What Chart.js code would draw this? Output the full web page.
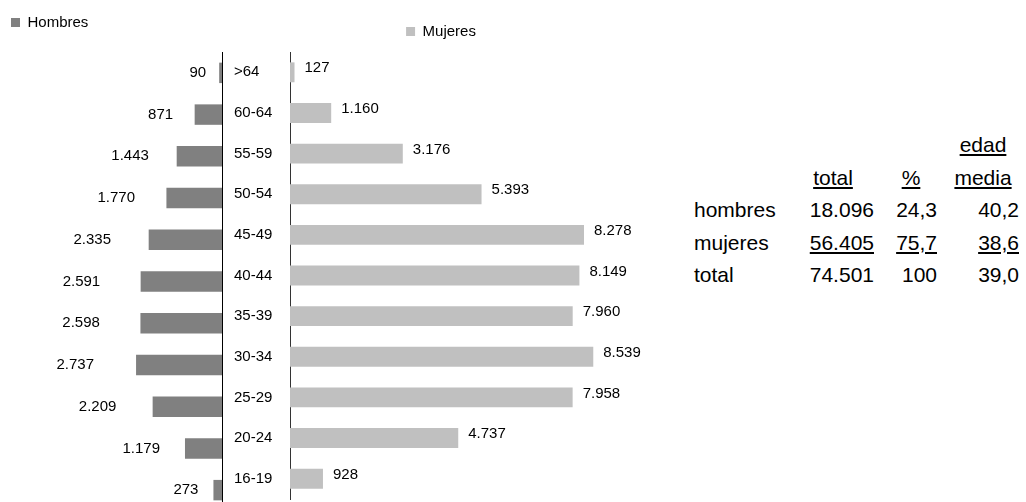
<!DOCTYPE html>
<html lang="es">
<head>
    <meta charset="UTF-8">
    <title>Pirámide de edades</title>
    <script src="https://cdn.jsdelivr.net/npm/chart.js"></script>
    <style>
        body { margin: 0; background: #fff; overflow: hidden; }
        #lienzo { position: relative; width: 1026px; height: 502px; overflow: hidden; }
        canvas { position: absolute; top: 0; }
        #hombresChart { left: 0; }
        #mujeresChart { left: 234px; }
        .celda { position: absolute; white-space: nowrap; font: 21px "Liberation Sans", Arial, sans-serif; line-height: 21px; color: #000; }
        .sub { text-decoration: underline; }
    </style>
</head>
<body>
<div id="lienzo">
    <canvas id="hombresChart" width="224" height="511"></canvas>
    <canvas id="mujeresChart" width="414" height="511"></canvas>
    <div id="tabla"></div>
</div>

<script>
    // datos de la piramide (de arriba a abajo)
    var edades = ['>64', '60-64', '55-59', '50-54', '45-49', '40-44', '35-39', '30-34', '25-29', '20-24', '16-19'];
    var hombres = [90, 871, 1443, 1770, 2335, 2591, 2598, 2737, 2209, 1179, 273];
    var mujeres = [127, 1160, 3176, 5393, 8278, 8149, 7960, 8539, 7958, 4737, 928];

    // tabla resumen
    var filasTabla = ['hombres', 'mujeres', 'total'];
    var totales = [18096, 56405, 74501];
    var porcentajes = ['24,3', '75,7', '100'];
    var edadMedia = ['40,2', '38,6', '39,0'];

    Chart.defaults.font.family = '"Liberation Sans", Arial, sans-serif';
    Chart.defaults.font.size = 15;
    Chart.defaults.color = '#000';

    function miles(v) {
        return String(v).replace(/\B(?=(\d{3})+(?!\d))/g, '.');
    }

    // mas hueco bajo la leyenda
    function alturaLeyenda(extra) {
        return {
            id: 'alturaLeyenda',
            beforeInit: function (chart) {
                var fit = chart.legend.fit;
                chart.legend.fit = function () {
                    fit.call(this);
                    this.height += extra;
                };
            }
        };
    }

    // etiquetas de valor junto a cada barra
    function etiquetas(lado) {
        return {
            id: 'etiquetas',
            afterDatasetsDraw: function (chart) {
                var ctx = chart.ctx;
                var vals = chart.data.datasets[0].data;
                ctx.save();
                ctx.font = '15px "Liberation Sans", Arial, sans-serif';
                ctx.fillStyle = '#000';
                ctx.textBaseline = 'middle';
                chart.getDatasetMeta(0).data.forEach(function (bar, i) {
                    if (lado == 'izq') {
                        var largo = bar.base - bar.x;
                        ctx.textAlign = 'right';
                        ctx.fillText(miles(vals[i]), bar.x - 12 - 0.35 * largo, bar.y);
                    } else {
                        ctx.textAlign = 'left';
                        ctx.fillText(miles(vals[i]), bar.x + 10, bar.y - 4);
                    }
                });
                ctx.restore();
            }
        };
    }

    function leyenda(align, padding) {
        return {
            position: 'top',
            align: align,
            labels: { boxWidth: 9, boxHeight: 9, padding: padding, font: { size: 15 }, color: '#000' }
        };
    }

    var hombresChart = new Chart(document.getElementById('hombresChart'), {
        type: 'bar',
        data: {
            labels: edades,
            datasets: [{
                label: 'Hombres',
                data: hombres,
                backgroundColor: '#808080',
                borderWidth: 0,
                barPercentage: 0.49,
                categoryPercentage: 1
            }]
        },
        options: {
            indexAxis: 'y',
            responsive: false,
            animation: false,
            layout: { padding: { top: 4, left: 0, right: 0, bottom: 0 } },
            plugins: { legend: leyenda('start', 11), tooltip: { enabled: false } },
            scales: {
                x: { type: 'linear', reverse: true, min: 0, max: 7070, display: false },
                y: {
                    position: 'right',
                    grid: { display: false },
                    ticks: { display: false },
                    border: { display: true, color: '#000', width: 1 },
                    afterFit: function (s) { s.width = 2; }
                }
            }
        },
        plugins: [alturaLeyenda(12), etiquetas('izq')]
    });

    var mujeresChart = new Chart(document.getElementById('mujeresChart'), {
        type: 'bar',
        data: {
            labels: edades,
            datasets: [{
                label: 'Mujeres',
                data: mujeres,
                backgroundColor: '#c0c0c0',
                borderWidth: 0,
                barPercentage: 0.49,
                categoryPercentage: 1
            }]
        },
        options: {
            indexAxis: 'y',
            responsive: false,
            animation: false,
            layout: { padding: { top: 14, left: 0, right: 0, bottom: 0 } },
            plugins: { legend: leyenda('center', 10), tooltip: { enabled: false } },
            scales: {
                x: { type: 'linear', min: 0, max: 10080, display: false },
                y: {
                    position: 'left',
                    grid: { display: false },
                    border: { display: true, color: '#333', width: 1 },
                    ticks: { crossAlign: 'far', color: '#000', font: { size: 15 } },
                    afterFit: function (s) { s.width = 56; }
                }
            }
        },
        plugins: [alturaLeyenda(3), etiquetas('der')]
    });

    // tabla de la derecha
    var tabla = document.getElementById('tabla');
    function celda(txt, x, base, modo, subrayado) {
        var d = document.createElement('div');
        d.className = 'celda' + (subrayado ? ' sub' : '');
        d.textContent = txt;
        d.style.top = (base - 18) + 'px';
        if (modo == 'der') {
            d.style.right = (1026 - x) + 'px';
        } else if (modo == 'centro') {
            d.style.left = x + 'px';
            d.style.transform = 'translateX(-50%)';
        } else {
            d.style.left = x + 'px';
        }
        tabla.appendChild(d);
    }

    celda('edad', 983, 152, 'centro', true);
    celda('total', 833, 185, 'centro', true);
    celda('%', 911, 185, 'centro', true);
    celda('media', 983, 185, 'centro', true);
    filasTabla.forEach(function (f, i) {
        var base = 217 + i * 32.5;
        var sub = (f == 'mujeres');
        celda(f, 694, base, 'izq', false);
        celda(miles(totales[i]), 874, base, 'der', sub);
        celda(porcentajes[i], 937, base, 'der', sub);
        celda(edadMedia[i], 1019, base, 'der', sub);
    });
</script>
</body>
</html>
